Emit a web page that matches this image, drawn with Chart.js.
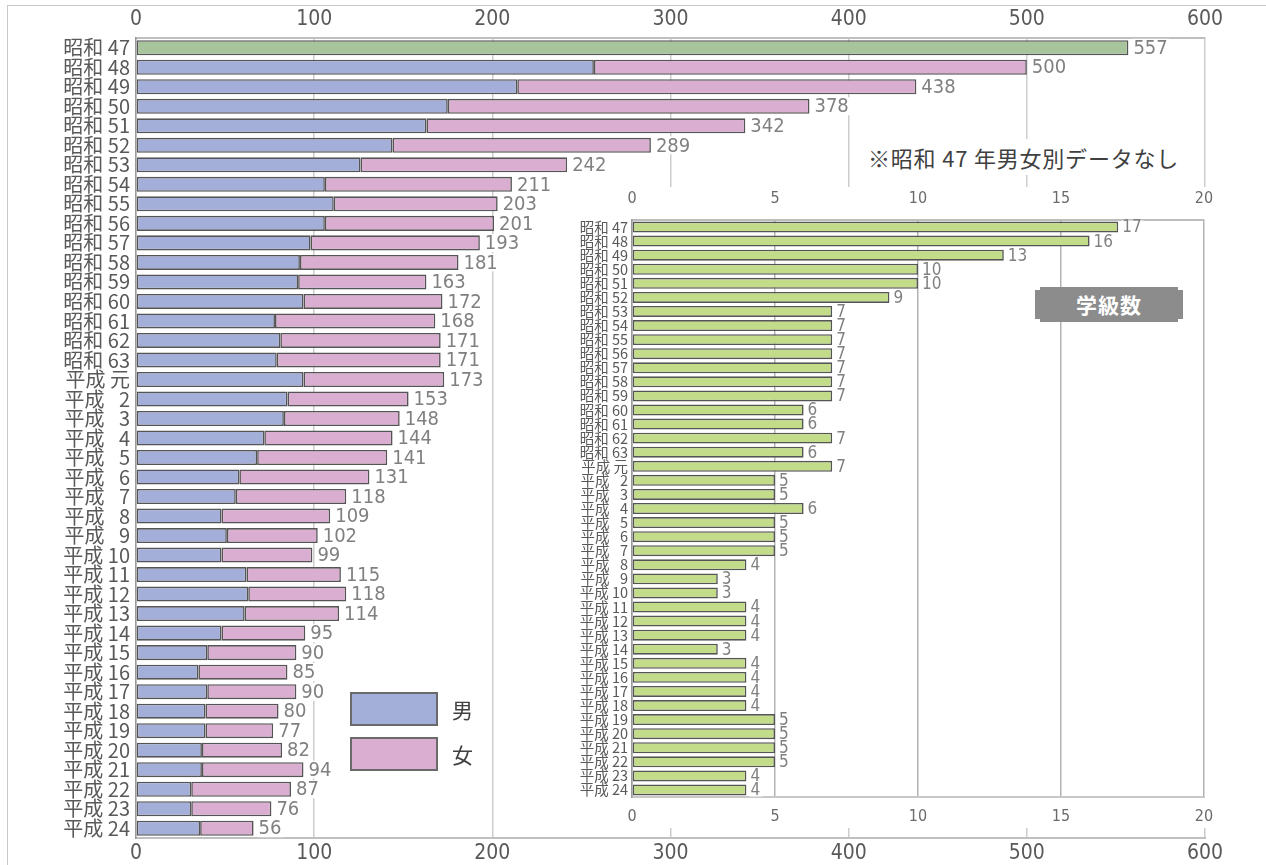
<!DOCTYPE html>
<html><head><meta charset="utf-8">
<script src="https://cdn.jsdelivr.net/npm/chart.js@4.4.0/dist/chart.umd.min.js"></script>
<style>
html,body{margin:0;padding:0;background:#fff;width:1266px;height:865px;overflow:hidden;position:relative;font-family:'Noto Sans CJK JP',sans-serif;}
#frame{position:absolute;left:7px;top:5px;width:1300px;height:900px;border-left:1px solid #c8c8c8;border-top:1px solid #c8c8c8;}
#mainCanvas{position:absolute;left:0;top:0;}
#insetWrap{position:absolute;left:565px;top:187px;width:650px;height:641px;background:#fff;}
#insetCanvas{position:absolute;left:0;top:0;}
#note{position:absolute;left:862px;top:139px;padding:0 6px;background:#fff;font-size:22px;letter-spacing:0.8px;color:#404040;line-height:36px;white-space:nowrap;}
#badge{position:absolute;left:1035px;top:287px;width:148px;height:35px;background:#8c8c8c;color:#fff;font-weight:bold;font-size:21px;line-height:35px;text-align:center;letter-spacing:1px;
clip-path:polygon(5px 0,calc(100% - 5px) 0,calc(100% - 5px) 3px,100% 3px,100% calc(100% - 3px),calc(100% - 5px) calc(100% - 3px),calc(100% - 5px) 100%,5px 100%,5px calc(100% - 3px),0 calc(100% - 3px),0 3px,5px 3px);}
.legbox{position:absolute;left:350px;width:84px;height:30px;border:2px solid #6a6a6a;}
.legtxt{position:absolute;left:452px;font-size:21px;color:#404040;line-height:30px;}
</style></head>
<body>
<div id="frame"></div>
<canvas id="mainCanvas" width="1266" height="865"></canvas>
<div id="note">※昭和 47 年男女別データなし</div>
<div class="legbox" style="top:692px;background:#a3aed9;"></div>
<div class="legtxt" style="top:694px;">男</div>
<div class="legbox" style="top:737px;background:#d9aed0;"></div>
<div class="legtxt" style="top:739px;">女</div>
<div id="insetWrap"><canvas id="insetCanvas" width="670" height="641"></canvas></div>
<div id="badge">学級数</div>
<script>
const categories = [
 '昭和 47','昭和 48','昭和 49','昭和 50','昭和 51','昭和 52','昭和 53','昭和 54','昭和 55','昭和 56',
 '昭和 57','昭和 58','昭和 59','昭和 60','昭和 61','昭和 62','昭和 63',
 '平成 元','平成 \u20022','平成 \u20023','平成 \u20024','平成 \u20025','平成 \u20026','平成 \u20027','平成 \u20028','平成 \u20029',
 '平成 10','平成 11','平成 12','平成 13','平成 14','平成 15','平成 16','平成 17','平成 18','平成 19',
 '平成 20','平成 21','平成 22','平成 23','平成 24'];
// 昭和47 only has a combined total (no male/female split)
const combinedOnly = [557,null,null,null,null,null,null,null,null,null,null,null,null,null,null,null,null,null,null,null,null,null,null,null,null,null,null,null,null,null,null,null,null,null,null,null,null,null,null,null,null];
const maleValues = [null,257,214,175,163,144,126,106,111,106,98,92,91,94,78,81,79,94,85,83,72,68,58,56,48,51,48,62,63,61,48,40,35,40,39,39,37,37,31,31,36];
const femaleValues = [null,243,224,203,179,145,116,105,92,95,95,89,72,78,90,90,92,79,68,65,72,73,73,62,61,51,51,53,55,53,47,50,50,50,41,38,45,57,56,45,30];
const totalLabels = [557,500,438,378,342,289,242,211,203,201,193,181,163,172,168,171,171,173,153,148,144,141,131,118,109,102,99,115,118,114,95,90,85,90,80,77,82,94,87,76,56];
const classCounts = [17,16,13,10,10,9,7,7,7,7,7,7,7,6,6,7,6,7,5,5,6,5,5,5,4,3,3,4,4,4,3,4,4,4,4,5,5,5,5,4,4];
const mainTickMax = 600, mainTickStep = 100;
const insetTickMax = 20, insetTickStep = 5;

const endLabels = {
  id:'endLabels',
  afterDatasetsDraw(chart, args, o){
    const ctx = chart.ctx, xs = chart.scales.x, ys = chart.scales.y;
    ctx.save();
    ctx.font = o.font;
    ctx.textBaseline = 'middle';
    ctx.textAlign = 'left';
    o.ends.forEach((v,i)=>{
      const x = xs.getPixelForValue(v) + o.offset;
      const y = ys.getPixelForValue(i);
      const t = String(o.labels[i]);
      const w = ctx.measureText(t).width;
      ctx.fillStyle = '#fff';
      ctx.fillRect(x-1, y-o.h/2, w+3, o.h);
      ctx.fillStyle = o.color;
      ctx.fillText(t, x, y + o.dy);
    });
    ctx.restore();
  }
};

const barEnds = categories.map((c,i)=> combinedOnly[i] != null ? combinedOnly[i] : (maleValues[i]||0)+(femaleValues[i]||0));

const numFont = "'Liberation Sans Narrow','DejaVu Sans Condensed',sans-serif";

new Chart(document.getElementById('mainCanvas'), {
  type:'bar',
  data:{
    labels:categories,
    datasets:[
      {label:'合計', data:combinedOnly, backgroundColor:'#a8c49c', borderColor:'#555', borderWidth:1.6, borderSkipped:false, stack:'s'},
      {label:'男', data:maleValues, backgroundColor:'#a3aed9', borderColor:'#555', borderWidth:1.6, borderSkipped:false, stack:'s'},
      {label:'女', data:femaleValues, backgroundColor:'#d9aed0', borderColor:'#555', borderWidth:1.6, borderSkipped:false, stack:'s'}
    ]
  },
  options:{
    indexAxis:'y', responsive:false, animation:false,
    layout:{padding:{left:0,right:61,top:0,bottom:0}},
    datasets:{bar:{categoryPercentage:1, barPercentage:0.77}},
    plugins:{legend:{display:false}, tooltip:{enabled:false},
      endLabels:{ends:barEnds, labels:totalLabels, font:"20px "+numFont, color:'#808080', offset:5, h:18, dy:1}},
    scales:{
      x:{type:'linear', position:'top', stacked:true, min:0, max:mainTickMax,
         ticks:{stepSize:mainTickStep, font:{family:numFont, size:21}, color:'#595959', padding:6, maxRotation:0},
         grid:{color:'#cdcdcd', lineWidth:1.5, drawTicks:false},
         border:{color:'#bfbfbf', width:2},
         afterFit(s){ s.height = 38; }},
      x2:{type:'linear', axis:'x', position:'bottom', min:0, max:mainTickMax,
         ticks:{stepSize:mainTickStep, font:{family:numFont, size:21}, color:'#595959', padding:3, maxRotation:0},
         grid:{display:false, drawTicks:false},
         border:{color:'#c0c0c0', width:2},
         afterFit(s){ s.height = 27; }},
      y:{stacked:true,
         ticks:{font:{family:"'Noto Sans CJK JP',sans-serif", size:20}, color:'#595959', padding:6, autoSkip:false},
         grid:{display:false, drawTicks:false},
         border:{color:'#9a9a9a', width:1.5},
         afterFit(s){ s.width = 136; }}
    }
  },
  plugins:[endLabels]
});

new Chart(document.getElementById('insetCanvas'), {
  type:'bar',
  data:{
    labels:categories,
    datasets:[{label:'学級数', data:classCounts, backgroundColor:'#c3dc8a', borderColor:'#555', borderWidth:1.6, borderSkipped:false}]
  },
  options:{
    indexAxis:'y', responsive:false, animation:false,
    layout:{padding:{left:0,right:31,top:0,bottom:0}},
    datasets:{bar:{categoryPercentage:1, barPercentage:0.78}},
    plugins:{legend:{display:false}, tooltip:{enabled:false},
      endLabels:{ends:classCounts, labels:classCounts, font:"17px "+numFont, color:'#808080', offset:4, h:13, dy:1}},
    scales:{
      x:{type:'linear', position:'top', min:0, max:insetTickMax,
         ticks:{stepSize:insetTickStep, font:{family:numFont, size:16}, color:'#6b6b6b', padding:12, maxRotation:0},
         grid:{color:'#b3b3b3', lineWidth:1.5, drawTicks:false},
         border:{color:'#bdbdbd', width:2},
         afterFit(s){ s.height = 33; }},
      x2:{type:'linear', axis:'x', position:'bottom', min:0, max:insetTickMax,
         ticks:{stepSize:insetTickStep, font:{family:numFont, size:16}, color:'#6b6b6b', padding:10, maxRotation:0},
         grid:{display:false, drawTicks:false},
         border:{color:'#c8c8c8', width:2},
         afterFit(s){ s.height = 31; }},
      y:{ticks:{font:{family:"'Noto Sans CJK JP',sans-serif", size:14.5}, color:'#595959', padding:4, autoSkip:false},
         grid:{display:false, drawTicks:false},
         border:{color:'#9a9a9a', width:1.5},
         afterFit(s){ s.width = 67; }}
    }
  },
  plugins:[endLabels]
});
</script>
</body></html>
